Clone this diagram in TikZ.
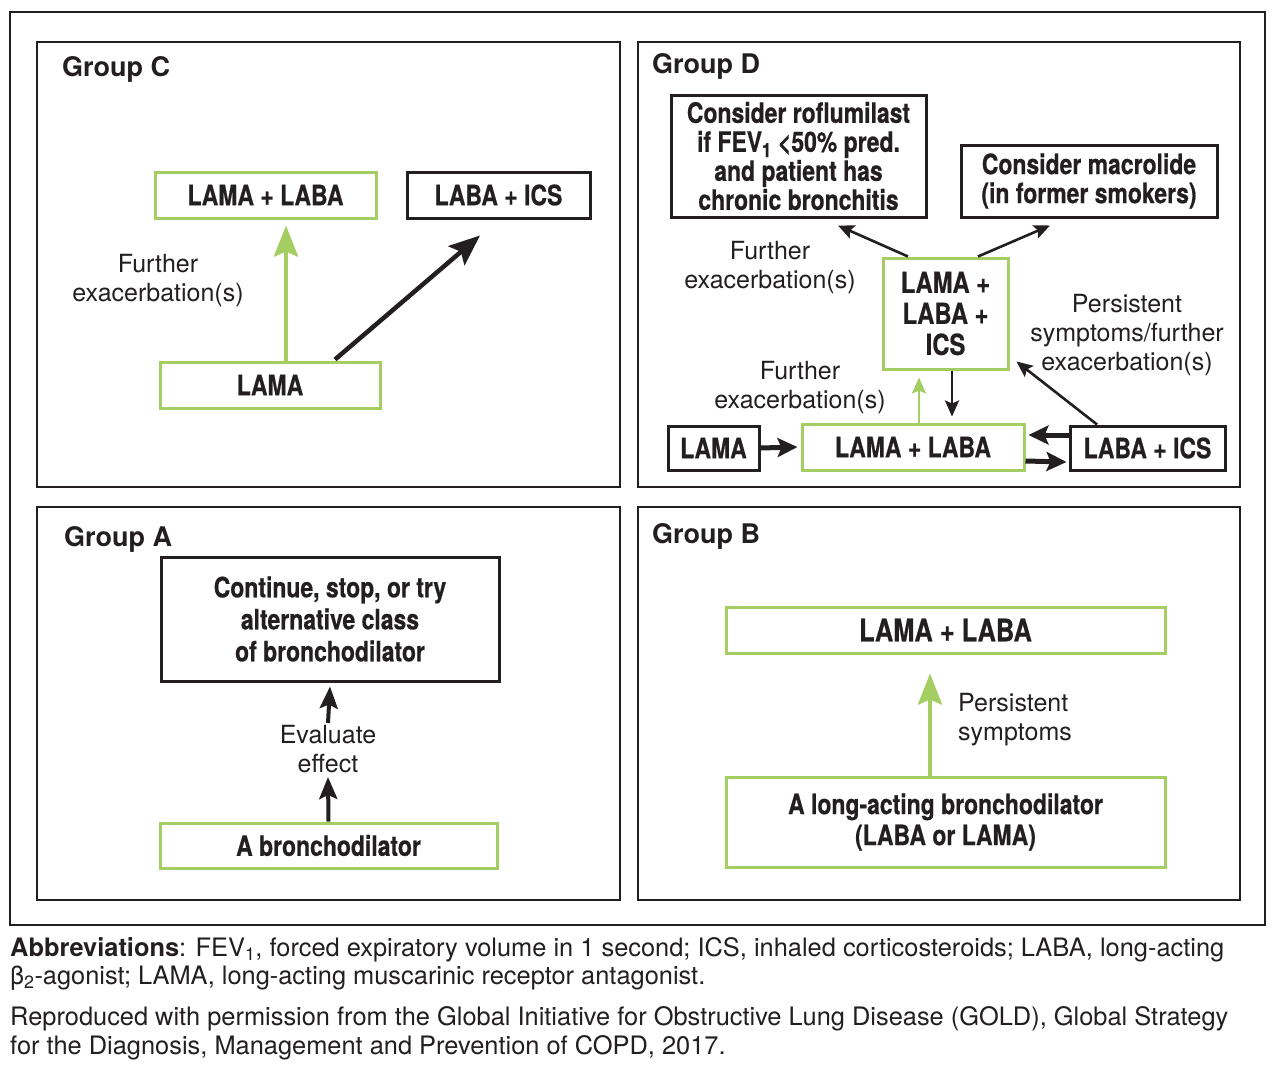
\documentclass[tikz,border=0pt]{standalone}
\usepackage{fontspec}
\setmainfont{TeX Gyre Heros}
\newfontfamily\condfont{TeX Gyre Heros}[FakeStretch=0.82,BoldFeatures={FakeBold=0.6}]
\usetikzlibrary{arrows.meta,calc}
\definecolor{lgreen}{RGB}{165,206,98}
\definecolor{ink}{RGB}{35,31,32}
\begin{document}
\begin{tikzpicture}[x=1pt,y=-1pt,
  every node/.style={text=ink},
  bx/.style={draw=ink,line width=3pt,inner sep=0pt,align=center,
     font=\condfont\bfseries\fontsize{28}{29}\selectfont},
  gbx/.style={bx,draw=lgreen},
  lbl/.style={align=center,inner sep=0pt,font=\fontsize{25}{29}\selectfont},
  ttl/.style={anchor=base west,inner sep=0pt,font=\bfseries\fontsize{27}{30}\selectfont},
  captxt/.style={anchor=base west,inner sep=0pt,font=\fontsize{25.4}{28}\selectfont},
  panel/.style={draw=ink,line width=2.6pt},
  bigarr/.style={draw=ink,line width=4.5pt,-{Stealth[length=31pt,width=25pt,inset=6pt]}},
  biggarr/.style={draw=lgreen,line width=4.5pt,-{Stealth[length=31pt,width=24pt,inset=5pt]}},
  midarr/.style={draw=ink,line width=4pt,-{Stealth[length=22pt,width=18pt,inset=4pt]}},
  thinarr/.style={draw=ink,line width=2.6pt,-{Stealth[length=16pt,width=14pt,inset=3pt]}},
  thingarr/.style={draw=lgreen,line width=2.6pt,-{Stealth[length=16pt,width=14pt,inset=3pt]}},
  fatarr/.style={draw=ink,line width=5pt,-{Stealth[length=20pt,width=19pt,inset=4pt]}}
]
\useasboundingbox (0,0) rectangle (1280,1072);
\fill[white] (0,0) rectangle (1280,1072);
% outer frame and panels
\draw[draw=ink,line width=1.6pt] (10,12) rectangle (1265,925);
\draw[panel] (37,42) rectangle (620,487);
\draw[panel] (638,42) rectangle (1240,487);
\draw[panel] (37,507) rectangle (620,900);
\draw[panel] (638,507) rectangle (1240,900);

% ---------- Group C ----------
\node[ttl] (tC) at (62,76) {Group C};
\node[gbx,minimum width=221pt,minimum height=46pt] (cll) at (265.5,195) {LAMA + LABA};
\node[bx,minimum width=183pt,minimum height=46pt] (cli) at (498.5,195) {LABA + ICS};
\node[gbx,minimum width=220pt,minimum height=46pt] (clama) at (270,385) {LAMA};
\node[lbl] (cfe) at (158,281) {Further\\exacerbation(s)};
\draw[biggarr] ($(clama.north)+(16,0)$) -- ($(cll.south)+(20.5,6)$);
\draw[bigarr] ($(clama.north)+(65,-1)$) -- ($(cli.south)+(-18.5,16)$);

% ---------- Group D ----------
\node[ttl] (tD) at (652,73) {Group D};
\node[bx,minimum width=255pt,minimum height=122pt] (rof) at (798.5,156)
  {Consider roflumilast\\if FEV\textsubscript{1} <50\% pred.\\and patient has\\chronic bronchitis};
\node[bx,minimum width=256pt,minimum height=72pt] (mac) at (1089,181)
  {Consider macrolide\\(in former smokers)};
\node[gbx,minimum width=125pt,minimum height=111pt,font=\condfont\bfseries\fontsize{29}{31}\selectfont] (tri) at (945.5,313.5)
  {LAMA +\\LABA +\\ICS};
\node[bx,minimum width=91pt,minimum height=44pt] (dlama) at (713.5,448) {LAMA};
\node[gbx,minimum width=222pt,minimum height=46pt] (dll) at (913,447) {LAMA + LABA};
\node[bx,minimum width=155pt,minimum height=44pt] (dlic) at (1147.5,448) {LABA + ICS};
\node[lbl] (dfe1) at (770,268) {Further\\exacerbation(s)};
\node[lbl] (dfe2) at (800,388) {Further\\exacerbation(s)};
\node[lbl] (dps) at (1127,335) {Persistent\\symptoms/further\\exacerbation(s)};
\draw[thinarr] ($(tri.north)+(-37.5,0)$) -- ($(rof.south)+(39.5,7)$);
\draw[thinarr] ($(tri.north)+(32.5,0)$) -- ($(mac.south)+(-39,7)$);
\draw[thingarr] ($(dll.north)+(6,0)$) -- ($(tri.south)+(-26.5,7)$);
\draw[thinarr] ($(tri.south)+(6.5,0)$) -- ($(dll.north)+(39,-6)$);
\draw[thinarr] ($(dlic.north)+(-50.5,0)$) -- ($(tri.south east)+(7,-9)$);
\draw[fatarr] (dlama.east) -- ($(dll.west)+(-3,0)$);
\draw[fatarr] ($(dlic.west)+(0,-13)$) -- ($(dll.east)+(3,-12)$);
\draw[fatarr] ($(dll.east)+(0,14)$) -- ($(dlic.west)+(-2,14)$);

% ---------- Group A ----------
\node[ttl] (tA) at (64,546) {Group A};
\node[bx,minimum width=338pt,minimum height=124pt,font=\condfont\bfseries\fontsize{28}{32}\selectfont] (acont) at (330,619)
  {Continue, stop, or try\\alternative class\\of bronchodilator};
\node[gbx,minimum width=337pt,minimum height=45pt] (abron) at (328.5,845.5) {A bronchodilator};
\node[lbl] (aeval) at (328,749) {Evaluate\\effect};
\draw[midarr] ($(abron.north)+(0,0)$) -- ($(aeval.south)+(0,4)$);
\draw[midarr] ($(aeval.north)+(0,-2)$) -- ($(acont.south)+(0,4)$);

% ---------- Group B ----------
\node[ttl] (tB) at (652,543) {Group B};
\node[gbx,minimum width=439pt,minimum height=46pt,font=\condfont\bfseries\fontsize{31}{32}\selectfont] (bll) at (945.5,630) {LAMA + LABA};
\node[gbx,minimum width=439pt,minimum height=90pt,font=\condfont\bfseries\fontsize{28}{31}\selectfont] (blong) at (945.5,822)
  {A long-acting bronchodilator\\(LABA or LAMA)};
\node[lbl,align=left,anchor=west] (bps) at (958,720) {Persistent\\symptoms};
\draw[biggarr] ($(blong.north)+(-15.5,0)$) -- ($(bll.south)+(-15.5,19)$);

% ---------- Caption ----------
\node[captxt] (c1) at (10,956) {\textbf{Abbreviations}: FEV\textsubscript{1}, forced expiratory volume in 1 second; ICS, inhaled corticosteroids; LABA, long-acting};
\node[captxt] (c2) at (10,984) {β\textsubscript{2}-agonist; LAMA, long-acting muscarinic receptor antagonist.};
\node[captxt] (c3) at (10,1025) {Reproduced with permission from the Global Initiative for Obstructive Lung Disease (GOLD), Global Strategy};
\node[captxt] (c4) at (10,1054) {for the Diagnosis, Management and Prevention of COPD, 2017.};
\end{tikzpicture}
\end{document}
